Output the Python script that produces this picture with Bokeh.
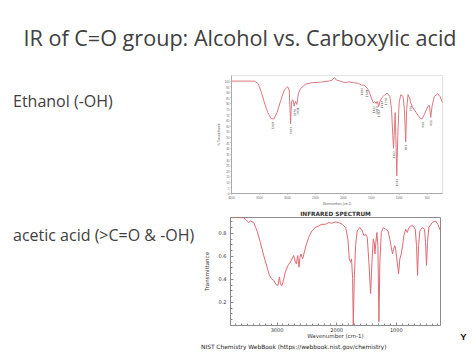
from bokeh.plotting import figure
from bokeh.layouts import column, row
from bokeh.models import Range1d, FixedTicker, Spacer, ColumnDataSource
from bokeh.core.properties import value
from bokeh.embed import file_html
from bokeh.resources import INLINE

# ---------------- data ----------------
slide_title = "IR of C=O group: Alcohol vs. Carboxylic acid"
label_ethanol = "Ethanol (-OH)"
label_acetic = "acetic acid (>C=O & -OH)"
corner_text = "Y"
nist_caption = "NIST Chemistry WebBook (https://webbook.nist.gov/chemistry)"

eth_wn = [4000, 3587, 3528, 3469, 3410, 3351, 3292, 3244, 3185, 3115, 3055, 2996, 2967, 2943,
          2926, 2902, 2878, 2855, 2831, 2802, 2760, 2671, 2554, 2406, 2259, 2200, 2158, 2123,
          2052, 1963, 1904, 1816, 1727, 1680, 1639, 1591, 1544, 1497, 1462, 1438, 1414, 1391,
          1367, 1344, 1314, 1285, 1255, 1214, 1167, 1137, 1114, 1102, 1084, 1072, 1060, 1043,
          1025, 1001, 972, 931, 907, 883, 866, 842, 813, 795, 754, 695, 636, 594, 547, 488,
          459, 435, 412, 370, 311, 270, 225]
eth_t = [100, 100, 98, 90.8, 80.6, 72, 66.8, 66.2, 72, 83.5, 92.2, 95, 92, 61.8,
         82, 83.5, 77.7, 82, 79.2, 89.3, 93.6, 97.4, 98.6, 99.1, 100, 100.9, 103.2, 100.9,
         100, 98.6, 99.2, 98.6, 98, 96.5, 96.5, 95, 91.6, 85, 80.6, 82, 80, 82,
         77.2, 82, 85, 86.4, 87.9, 89.3, 86.4, 74.9, 51.7, 40.2, 57.5, 72, 51.7, 15.6,
         51.7, 80.6, 87.9, 86.4, 74.9, 46, 74.9, 87.9, 85, 80.6, 76.3, 72, 67.6, 66.2, 70.5, 77.7,
         78.3, 67.6, 77.7, 86.4, 88.7, 86.4, 80.6]
eth_peak_wn = [3268, 2943, 2878, 2831, 1680, 1591, 1462, 1414, 1367, 1314, 1255, 1102, 1043, 883, 795, 594, 435]
eth_peak_t = [66.2, 61.8, 77.7, 79.2, 96.5, 95, 80.6, 80, 77.2, 85, 87.9, 40.2, 15.6, 46, 80.6, 66.2, 67.6]
eth_xticks = [4000, 3500, 3000, 2500, 2000, 1500, 1000, 500]
eth_yticks = [0, 5, 10, 15, 20, 25, 30, 35, 40, 45, 50, 55, 60, 65, 70, 75, 80, 85, 90, 95, 100]

ac_wn = [3780, 3558, 3529, 3502, 3474, 3446, 3390, 3335, 3279, 3223, 3167, 3127, 3094, 3055,
         3017, 2983, 2960, 2943, 2921, 2899, 2860, 2816, 2776, 2749, 2720, 2692, 2675, 2653,
         2631, 2614, 2598, 2570, 2514, 2469, 2414, 2357, 2302, 2246, 2190, 2134, 2079, 2022,
         1966, 1905, 1849, 1810, 1788, 1765, 1750, 1732, 1721, 1704, 1682, 1654, 1610, 1570,
         1543, 1514, 1486, 1459, 1430, 1408, 1385, 1369, 1358, 1342, 1325, 1308, 1291, 1275,
         1251, 1218, 1179, 1140, 1107, 1079, 1062, 1045, 1023, 1007, 983, 961, 940, 916, 894,
         872, 843, 815, 787, 759, 715, 682, 660, 643, 626, 604, 564, 526, 509, 493, 476, 454,
         397, 342, 303, 258]
ac_t = [0.936, 0.936, 0.921, 0.907, 0.893, 0.907, 0.893, 0.821, 0.721, 0.607, 0.506, 0.435, 0.406, 0.392,
        0.355, 0.349, 0.421, 0.363, 0.343, 0.378, 0.464, 0.521, 0.549, 0.578, 0.607, 0.549, 0.535, 0.607,
        0.506, 0.592, 0.621, 0.578, 0.693, 0.764, 0.821, 0.850, 0.864, 0.878, 0.878, 0.893, 0.888, 0.898,
        0.893, 0.878, 0.850, 0.749, 0.578, 0.549, 0.578, 0.406, 0.0, 0.406, 0.693, 0.821, 0.850, 0.821,
        0.778, 0.793, 0.764, 0.549, 0.277, 0.549, 0.749, 0.721, 0.621, 0.721, 0.807, 0.693, 0.034, 0.549,
        0.807, 0.850, 0.836, 0.821, 0.749, 0.664, 0.621, 0.664, 0.693, 0.650, 0.549, 0.449, 0.578, 0.621, 0.693,
        0.778, 0.836, 0.807, 0.850, 0.864, 0.864, 0.836, 0.693, 0.435, 0.693, 0.821, 0.850, 0.836, 0.721, 0.521, 0.721, 0.850,
        0.893, 0.907, 0.878, 0.821]
ac_xticks = [3000, 2000, 1000]
ac_yticks = [0.2, 0.4, 0.6, 0.8]

# ---------------- helpers ----------------
SLIDE_FONT = value("Open Sans")
TXT = "#404040"


def canvas(w, h, x0, y0):
    p = figure(width=w, height=h, x_range=Range1d(x0, x0 + w), y_range=Range1d(y0 + h, y0),
               toolbar_location=None, output_backend="svg", title=None,
               x_axis_location=None, y_axis_location=None, min_border=0)
    p.grid.visible = False
    p.outline_line_color = None
    p.background_fill_color = "white"
    p.border_fill_color = "white"
    return p


# ---------------- title canvas ----------------
pt = canvas(474, 68, 0, 0)
pt.text(x=[239.5], y=[36.7], text=[slide_title], text_font=SLIDE_FONT, text_font_size="21.6px",
        text_align="center", text_baseline="alphabetic", text_color=TXT)

# ---------------- left canvas ----------------
pl = canvas(200, 273, 0, 68)
pl.text(x=[12.5, 12.5], y=[100.8, 234], text=[label_ethanol, label_acetic], text_font=SLIDE_FONT,
        text_font_size="16px", text_align="left", text_baseline="alphabetic", text_color=TXT)

# ---------------- right canvas ----------------
pr = canvas(19, 273, 455, 68)
pr.text(x=[463], y=[335.8], text=[corner_text], text_font=value("Liberation Sans"),
        text_font_size="9.5px", text_font_style="bold", text_align="center",
        text_baseline="alphabetic", text_color="#111111")

# ---------------- ethanol spectrum ----------------
pe = figure(width=241, height=140, x_range=Range1d(4000, 225), y_range=Range1d(0, 105),
            toolbar_location=None, output_backend="svg", title=None,
            min_border_left=16, min_border_right=13, min_border_top=7, min_border_bottom=11)
pe.grid.visible = False
pe.outline_line_color = "#e2e2e2"
pe.line(eth_wn, eth_t, line_color="#dc7880", line_width=1)
psrc = ColumnDataSource(dict(x=eth_peak_wn, y=[t - 2.5 for t in eth_peak_t],
                             lab=[str(w) for w in eth_peak_wn]))
pe.text(x="x", y="y", text="lab", source=psrc, angle=1.5708, text_font_size="3px",
        text_align="right", text_baseline="middle", text_color="#555555",
        text_font=value("DejaVu Sans"))
pe.xaxis.ticker = FixedTicker(ticks=eth_xticks)
pe.yaxis.ticker = FixedTicker(ticks=eth_yticks)
pe.xaxis.axis_label = "Wavenumbers (cm-1)"
pe.yaxis.axis_label = "% Transmittance"
for ax in (pe.xaxis, pe.yaxis):
    ax.major_label_text_font_size = "3px"
    ax.axis_label_text_font_size = "3px"
    ax.axis_label_text_font_style = "normal"
    ax.major_label_text_color = "#666666"
    ax.axis_label_text_color = "#666666"
    ax.axis_line_color = "#aaaaaa"
    ax.major_tick_line_color = "#aaaaaa"
    ax.major_tick_out = 1
    ax.major_tick_in = 0
    ax.minor_tick_line_color = None
    ax.major_label_standoff = 1
    ax.axis_label_standoff = 1

eth_row = row(Spacer(width=14, height=140), pe)

# ---------------- acetic acid spectrum ----------------
pa = figure(width=255, height=133, x_range=Range1d(3780, 258), y_range=Range1d(0, 0.937),
            toolbar_location=None, output_backend="svg", title="INFRARED SPECTRUM",
            min_border_left=30, min_border_right=15, min_border_top=9, min_border_bottom=15)
pa.title.align = "center"
pa.title.text_font_size = "5.8px"
pa.title.text_font_style = "bold"
pa.title.text_color = "#333333"
pa.title.text_font = "DejaVu Sans"
pa.title.standoff = 1
pa.grid.visible = False
pa.outline_line_color = "#8a8a8a"
pa.line(ac_wn, ac_t, line_color="#df6a73", line_width=1)
pa.xaxis.ticker = FixedTicker(ticks=ac_xticks, minor_ticks=list(range(300, 3800, 100)))
pa.yaxis.ticker = FixedTicker(ticks=ac_yticks, minor_ticks=[i * 0.05 for i in range(0, 19)])
pa.xaxis.axis_label = "Wavenumber (cm-1)"
pa.yaxis.axis_label = "Transmittance"
for ax in (pa.xaxis, pa.yaxis):
    ax.major_label_text_font_size = "5px"
    ax.axis_label_text_font_size = "5.5px"
    ax.axis_label_text_font_style = "normal"
    ax.major_label_text_font = "DejaVu Sans"
    ax.axis_label_text_font = "DejaVu Sans"
    ax.major_label_text_color = "#333333"
    ax.axis_label_text_color = "#333333"
    ax.axis_line_color = "#8a8a8a"
    ax.major_tick_line_color = "#8a8a8a"
    ax.minor_tick_line_color = "#8a8a8a"
    ax.major_tick_in = 3
    ax.major_tick_out = 0
    ax.minor_tick_in = 2
    ax.minor_tick_out = 0
    ax.major_label_standoff = 4
pa.xaxis.major_label_standoff = 2
pa.xaxis.axis_label_standoff = -2
pa.yaxis.axis_label_standoff = 6

# ---------------- caption canvas (full width strip) ----------------
pc = canvas(474, 14, 0, 341)
pc.text(x=[200.5], y=[346.8], text=[nist_caption], text_font=value("DejaVu Sans"),
        text_font_size="5.9px", text_align="left", text_baseline="alphabetic",
        text_color="#222222")

right_col = column(eth_row, pa)
body = row(pl, right_col, pr)
layout = column(pt, body, pc)

open("out.html", "w").write(file_html(layout, INLINE))
